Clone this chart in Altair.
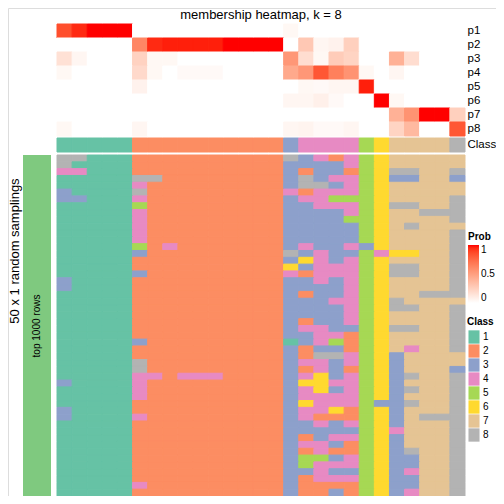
import altair as alt
import pandas as pd

FONT = "Liberation Sans"

columns = list(range(1, 28))
prob_names = ["p1", "p2", "p3", "p4", "p5", "p6", "p7", "p8"]

p1 = [0.85, 0.95, 1, 1, 1, 0, 0, 0, 0, 0, 0, 0, 0, 0, 0, 0.04, 0, 0, 0, 0, 0, 0, 0, 0, 0, 0, 0]
p2 = [0, 0, 0, 0, 0, 0.62, 0.95, 0.97, 0.97, 0.97, 0.97, 1, 1, 1, 1, 0, 0.29, 0.05, 0.07, 0.25, 0, 0, 0, 0, 0, 0, 0]
p3 = [0.16, 0.05, 0, 0, 0, 0.24, 0.04, 0.04, 0, 0, 0, 0, 0, 0, 0, 0.54, 0.18, 0.04, 0.27, 0.23, 0, 0, 0.41, 0.18, 0, 0, 0]
p4 = [0.04, 0, 0, 0, 0, 0.2, 0.04, 0, 0.03, 0.03, 0.03, 0, 0, 0, 0, 0.45, 0.54, 0.82, 0.65, 0.56, 0.04, 0, 0.05, 0, 0, 0, 0]
p5 = [0, 0, 0, 0, 0, 0.07, 0, 0, 0, 0, 0, 0, 0, 0, 0, 0, 0.04, 0.03, 0.05, 0.05, 0.97, 0, 0, 0, 0, 0, 0]
p6 = [0, 0, 0, 0, 0, 0, 0, 0, 0, 0, 0, 0, 0, 0, 0, 0.05, 0.05, 0.08, 0.03, 0, 0, 1, 0.04, 0, 0, 0, 0]
p7 = [0, 0, 0, 0, 0, 0, 0, 0, 0, 0, 0, 0, 0, 0, 0, 0, 0, 0, 0, 0, 0, 0, 0.41, 0.56, 1, 1, 0.25]
p8 = [0.04, 0, 0, 0, 0, 0.05, 0, 0, 0, 0, 0, 0, 0, 0, 0, 0.05, 0.06, 0.03, 0.03, 0.05, 0, 0, 0.23, 0.37, 0, 0, 0.82]

class_row = [1] * 5 + [2] * 10 + [3] + [4] * 4 + [5] + [6] + [7] * 4 + [8]

samplings = [
    "88111" "2222222222" "8" "3424" "5" "6" "7777" "7",
    "81111" "2222222222" "3" "3334" "5" "6" "7777" "7",
    "44111" "2222222222" "3" "2332" "5" "6" "8877" "8",
    "11111" "8822222222" "3" "8344" "5" "6" "3377" "3",
    "11111" "4222222222" "3" "8834" "5" "6" "7777" "7",
    "31111" "8222222222" "4" "2444" "5" "6" "7777" "7",
    "33111" "4222222222" "3" "4455" "5" "6" "7777" "8",
    "11111" "5222222222" "3" "3444" "5" "6" "8877" "8",
    "11111" "4222222222" "3" "3334" "5" "6" "7788" "8",
    "11111" "4222222222" "3" "3335" "5" "6" "7777" "8",
    "11111" "4222222222" "3" "3333" "5" "6" "7877" "7",
    "11111" "4222222222" "3" "3333" "5" "6" "7777" "8",
    "11111" "4222222222" "3" "3333" "5" "6" "7777" "8",
    "11111" "5242222222" "3" "4334" "3" "6" "7777" "8",
    "11111" "3222222222" "8" "3433" "5" "4" "6677" "8",
    "11111" "2222222222" "3" "6434" "5" "6" "7777" "8",
    "11111" "2222222222" "6" "3444" "5" "6" "8877" "8",
    "11111" "3222222222" "4" "2444" "5" "6" "8877" "8",
    "31111" "2222222222" "3" "3434" "5" "6" "7777" "8",
    "31111" "2222222222" "3" "3334" "5" "6" "7777" "8",
    "11111" "2222222222" "3" "2334" "5" "6" "7788" "8",
    "11111" "2222222222" "3" "3344" "5" "6" "8777" "7",
    "11111" "2222222222" "3" "3334" "5" "6" "8877" "8",
    "11111" "2222222222" "3" "3334" "5" "6" "7777" "8",
    "11111" "2222222222" "3" "2334" "5" "6" "7777" "8",
    "11111" "2222222222" "3" "4433" "5" "6" "8877" "8",
    "11111" "2222222222" "3" "3442" "5" "6" "7777" "8",
    "11111" "3222222222" "1" "3452" "5" "6" "7777" "8",
    "11111" "2222222222" "3" "2332" "5" "6" "7477" "8",
    "11111" "2222222222" "3" "2884" "5" "6" "3777" "7",
    "11111" "8222222222" "3" "4434" "5" "6" "3777" "7",
    "11111" "8222222222" "3" "2432" "5" "6" "3777" "3",
    "11111" "4424442222" "3" "4634" "5" "6" "3877" "8",
    "31111" "4222222222" "3" "6644" "5" "6" "3777" "8",
    "11111" "4222222222" "3" "4634" "5" "6" "3877" "8",
    "11111" "4222222222" "3" "4444" "5" "6" "3777" "8",
    "11111" "2222222222" "3" "6444" "5" "3" "3877" "8",
    "31111" "2222222222" "3" "4462" "5" "6" "3777" "8",
    "31111" "4222222222" "3" "4222" "5" "6" "3788" "8",
    "11111" "2222222222" "3" "3434" "5" "6" "3777" "8",
    "11111" "2222222222" "3" "3333" "5" "6" "4777" "8",
    "11111" "2222222222" "3" "2344" "5" "6" "3777" "8",
    "11111" "2222222222" "3" "4432" "5" "6" "3777" "8",
    "11111" "2222222222" "3" "2422" "5" "6" "3877" "8",
    "11111" "2222222222" "3" "5534" "5" "6" "3377" "8",
    "11111" "2222222222" "3" "5444" "5" "6" "3377" "8",
    "11111" "2222222222" "3" "3433" "5" "6" "3477" "8",
    "11111" "2222222222" "3" "2444" "5" "6" "3377" "8",
    "11111" "4222222222" "3" "2222" "5" "6" "3377" "8",
    "11111" "2222222222" "3" "2232" "5" "6" "3477" "8",
]

class_labels = ["1", "2", "3", "4", "5", "6", "7", "8"]
class_colors = ["#66C2A5", "#FC8D62", "#8DA0CB", "#E78AC3", "#A6D854", "#FFD92F", "#E5C494", "#B3B3B3"]

title_text = "membership heatmap, k = 8"
row_title_text = "50 x 1 random samplings"
split_text = "top 1000 rows"

# ---- tables ----
prob_df = pd.DataFrame(
    [{"col": c, "row": name, "prob": v}
     for name, vals in zip(prob_names, [p1, p2, p3, p4, p5, p6, p7, p8])
     for c, v in zip(columns, vals)]
)
class_df = pd.DataFrame({"col": columns, "row": ["Class"] * len(columns),
                         "cls": [str(v) for v in class_row]})
samp_df = pd.DataFrame(
    [{"col": c, "sample": i, "cls": s[c - 1]}
     for i, s in enumerate(samplings) for c in columns]
)

x_scale = alt.Scale(domain=columns, range=[49, 457], paddingInner=0, paddingOuter=0)
class_scale = alt.Scale(domain=class_labels, range=class_colors)
prob_scale = alt.Scale(domain=[0, 1], range=["#ffffff", "#ff0000"], interpolate="lab")
class_legend = alt.Legend(
    title="Class", orient="none", legendX=459, legendY=309,
    symbolType="M-0.83,-1H0.83V1H-0.83Z", symbolSize=177, symbolStrokeWidth=0,
    symbolOpacity=1, rowPadding=0, labelOffset=2, titleFontSize=10,
    titleFontWeight="bold", labelFontSize=10, titlePadding=3, padding=0,
    titleFont=FONT, labelFont=FONT, titleColor="black", labelColor="black",
)
right_axis = dict(orient="right", title=None, ticks=False, tickSize=0, domain=False,
                  labelFontSize=11.5, offset=-31, labelPadding=2, labelFont=FONT,
                  labelColor="black", grid=False)

prob_layer = alt.Chart(prob_df).mark_rect(strokeWidth=1).encode(
    x=alt.X("col:O", scale=x_scale, axis=None),
    y=alt.Y("row:N", scale=alt.Scale(domain=prob_names, range=[16, 128], paddingInner=0, paddingOuter=0),
            axis=alt.Axis(**right_axis)),
    fill=alt.Fill("prob:Q", scale=prob_scale,
                  legend=alt.Legend(title="Prob", orient="none", legendX=460, legendY=224,
                                    direction="vertical", gradientLength=58, gradientThickness=11,
                                    values=[0, 0.5, 1], format="~g", titleFontSize=10,
                                    titleFontWeight="bold", labelFontSize=10, titlePadding=3,
                                    padding=0, gradientStrokeWidth=0, labelOffset=2,
                                    titleFont=FONT, labelFont=FONT,
                                    titleColor="black", labelColor="black")),
    stroke=alt.Stroke("prob:Q", scale=prob_scale, legend=None),
)

class_layer = alt.Chart(class_df).mark_rect(strokeWidth=1).encode(
    x=alt.X("col:O", scale=x_scale, axis=None),
    y=alt.Y("row:N", scale=alt.Scale(domain=["Class"], range=[130, 144], paddingInner=0, paddingOuter=0),
            axis=alt.Axis(**right_axis)),
    color=alt.Color("cls:N", scale=class_scale, legend=class_legend),
    stroke=alt.Stroke("cls:N", scale=class_scale, legend=None),
)

samp_layer = alt.Chart(samp_df).mark_rect(strokeWidth=1).encode(
    x=alt.X("col:O", scale=x_scale, axis=None),
    y=alt.Y("sample:O", scale=alt.Scale(domain=list(range(len(samplings))), range=[147, 488],
                                        paddingInner=0, paddingOuter=0), axis=None),
    color=alt.Color("cls:N", scale=class_scale, legend=class_legend),
    stroke=alt.Stroke("cls:N", scale=class_scale, legend=None),
)

split_bar = alt.Chart(pd.DataFrame({"label": [split_text]})).mark_rect(color="#7FC97F").encode(
    x=alt.value(15), x2=alt.value(43), y=alt.value(147), y2=alt.value(488)
)
split_label = alt.Chart(pd.DataFrame({"label": [split_text]})).mark_text(
    angle=270, fontSize=10, font=FONT, color="black", align="center", baseline="middle"
).encode(x=alt.value(29), y=alt.value(318), text="label:N")

row_title = alt.Chart(pd.DataFrame({"label": [row_title_text]})).mark_text(
    angle=270, fontSize=13, font=FONT, color="black", align="center", baseline="middle"
).encode(x=alt.value(7), y=alt.value(243), text="label:N")

main_title = alt.Chart(pd.DataFrame({"label": [title_text]})).mark_text(
    fontSize=13, font=FONT, color="black", align="center", baseline="alphabetic"
).encode(x=alt.value(253), y=alt.value(10.5), text="label:N")

chart = alt.layer(
    prob_layer, class_layer, samp_layer, split_bar, split_label, row_title, main_title
).resolve_scale(
    y="independent", stroke="independent"
).properties(
    width=488, height=488, padding=0,
    autosize=alt.AutoSizeParams(type="none"),
).configure_view(stroke=None).configure(font=FONT)

chart.save("out.html", embed_options={"renderer": "svg", "actions": False})
